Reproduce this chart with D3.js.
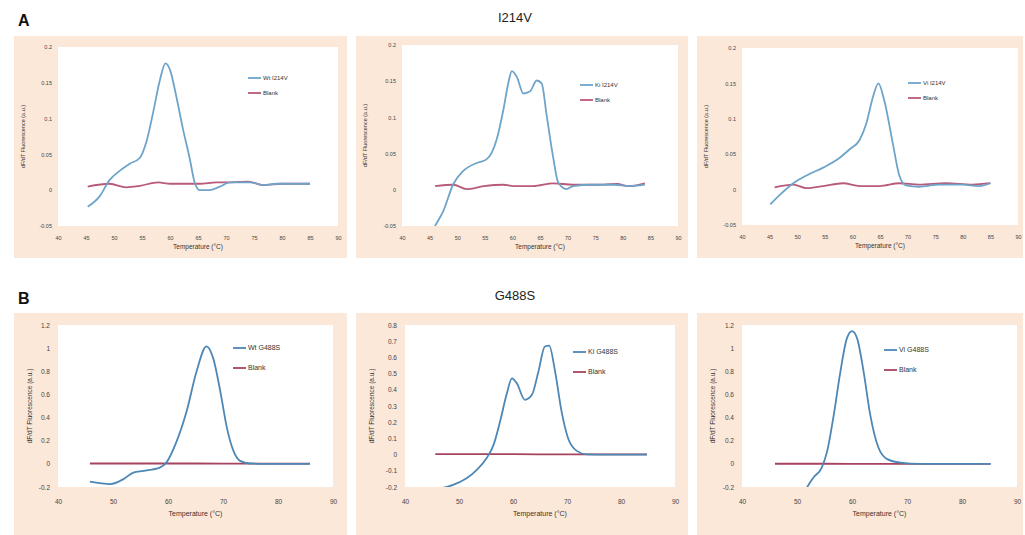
<!DOCTYPE html>
<html><head><meta charset="utf-8">
<script src="https://cdn.jsdelivr.net/npm/d3@7"></script>
<style>body{margin:0;background:#fff}svg{display:block;font-family:"Liberation Sans",Arial,sans-serif}</style>
</head><body><svg id="c" width="1025" height="535"></svg>
<script>
// ---------- tick labels ----------
const xTicksA = [40,45,50,55,60,65,70,75,80,85,90];
const xTicksB = [40,50,60,70,80,90];
const yTicksA = [-0.05,0,0.05,0.1,0.15,0.2];
const yTicksB = [-0.2,0,0.2,0.4,0.6,0.8,1,1.2];
const yTicksB2 = [-0.2,-0.1,0,0.1,0.2,0.3,0.4,0.5,0.6,0.7,0.8];

// ---------- series ----------
const a1Temp = [45.3,47.4,49.2,51,52.8,54.6,55.8,57,58.2,59.2,60,61.1,62.3,63.5,64.4,65.3,67,68.9,70.7,72.5,74.3,76.7,79.1,82,85];
const a1Sample = [-0.023,-0.009,0.014,0.027,0.037,0.045,0.068,0.109,0.154,0.177,0.168,0.132,0.086,0.045,0.011,0.0,0.0,0.005,0.011,0.011,0.011,0.007,0.009,0.009,0.009];
const a1BlankTemp = [45.3,49.2,52.2,54.6,57.9,60,63,65.3,68.3,71,74,76.7,80,85];
const a1Blank = [0.005,0.009,0.004,0.006,0.011,0.009,0.009,0.009,0.011,0.011,0.012,0.007,0.009,0.009];

const a2Temp = [45,46,47.5,49.3,51.1,53.5,55.3,57.2,58.4,59.3,59.9,60.8,62,63.2,64.4,65.3,66.2,67.4,68.3,69.8,71,74.3,78.5,81,84];
const a2Sample = [-0.065,-0.05,-0.029,0.008,0.026,0.037,0.042,0.071,0.112,0.149,0.164,0.156,0.133,0.136,0.151,0.147,0.103,0.044,0.010,0.001,0.005,0.007,0.007,0.005,0.007];
const a2BlankTemp = [46,49.3,51.7,54.8,58.4,60.2,63.8,67.4,71,75,79,81,84];
const a2Blank = [0.005,0.007,0.001,0.005,0.007,0.005,0.005,0.009,0.007,0.007,0.008,0.005,0.009];

const a3Temp = [45.1,46.9,49.3,51.7,54.7,57.7,59.5,61.3,62.5,63.7,64.7,65.8,67.3,68.5,69.7,72.1,75.7,79.9,82.9,85];
const a3Sample = [-0.021,-0.007,0.009,0.020,0.031,0.045,0.057,0.070,0.093,0.130,0.150,0.125,0.066,0.020,0.006,0.004,0.007,0.007,0.005,0.009];
const a3BlankTemp = [45.9,49.3,51.7,54.7,58.3,61.3,64.9,68.5,72.1,76.9,81.7,85];
const a3Blank = [0.003,0.007,0.002,0.005,0.009,0.005,0.005,0.009,0.007,0.009,0.007,0.009];

const b1Temp = [45.8,49.5,51.9,53.7,55.5,58.5,59.7,61.6,63.4,65.2,67.0,68.2,69.5,70.7,71.9,73.1,74.9,77.9,85.8];
const b1Sample = [-0.154,-0.175,-0.132,-0.075,-0.06,-0.032,0.011,0.198,0.457,0.80,1.016,0.916,0.629,0.313,0.112,0.026,0.003,0.0,0.0];
const b1BlankTemp = [45.8,55,65,75,85.8];
const b1Blank = [0.003,0.003,0.003,0.002,0.002];

const b2Temp = [45.2,48.9,51.4,53.3,55.1,56.4,57.6,58.8,59.8,60.7,62.2,63.5,64.7,65.9,66.7,67.8,69,70.2,71.8,73.6,77.3,84.8];
const b2Sample = [-0.218,-0.187,-0.146,-0.094,-0.023,0.060,0.204,0.369,0.471,0.440,0.338,0.369,0.512,0.667,0.673,0.512,0.265,0.101,0.023,0.002,0.0,0.0];
const b2BlankTemp = [45.6,55,65,75,84.8];
const b2Blank = [0.003,0.003,0.002,0.002,0.002];

const b3Temp = [50.5,51.5,53,54.5,55.5,56.7,57.9,59.1,60,60.9,62.1,63.3,64.8,66.4,68.8,72.5,78,85.2];
const b3Sample = [-0.35,-0.233,-0.118,-0.032,0.112,0.428,0.80,1.089,1.147,1.089,0.80,0.428,0.141,0.041,0.011,0.0,0.0,0.0];
const b3BlankTemp = [46,55,65,75,85.2];
const b3Blank = [0.001,0.001,0.0,0.0,0.0];

const sampleNames = ["Wt I214V","Ki I214V","Vi I214V","Wt G488S","Ki G488S","Vi G488S"];
const blankName = "Blank";
const rowTitles = ["I214V","G488S"];
const rowLetters = ["A","B"];
const xLabel = "Temperature (\u00B0C)";
const yLabel = "dF/dT Fluorescence (a.u.)";

// ---------- layout ----------
const svg = d3.select("#c");
const panels = [
  {bg:[14,36,333,222], px:[58,338], py:[47,226], xt:xTicksA, yt:yTicksA, t:a1Temp, s:a1Sample, bt:a1BlankTemp, b:a1Blank, name:sampleNames[0], row:0, leg:[248,78]},
  {bg:[356,36,332,222], px:[402,678], py:[45,226], xt:xTicksA, yt:yTicksA, t:a2Temp, s:a2Sample, bt:a2BlankTemp, b:a2Blank, name:sampleNames[1], row:0, leg:[580,85]},
  {bg:[697,36,326,222], px:[742,1018], py:[48,225], xt:xTicksA, yt:yTicksA, t:a3Temp, s:a3Sample, bt:a3BlankTemp, b:a3Blank, name:sampleNames[2], row:0, leg:[908,83]},
  {bg:[14,313,333,222], px:[58,333], py:[325,487], xt:xTicksB, yt:yTicksB, t:b1Temp, s:b1Sample, bt:b1BlankTemp, b:b1Blank, name:sampleNames[3], row:1, leg:[233,348]},
  {bg:[356,313,332,222], px:[405,675], py:[325,487], xt:xTicksB, yt:yTicksB2, t:b2Temp, s:b2Sample, bt:b2BlankTemp, b:b2Blank, name:sampleNames[4], row:1, leg:[573,352]},
  {bg:[697,313,326,222], px:[742,1017], py:[325,487], xt:xTicksB, yt:yTicksB, t:b3Temp, s:b3Sample, bt:b3BlankTemp, b:b3Blank, name:sampleNames[5], row:1, leg:[884,350]}
];
const colors = [
  {s:"#6ea4c9", b:"#b85a7c"},
  {s:"#4d87b6", b:"#a8435f"}
];

// row headers
[[18,26,290,22],[18,304,290,300]].forEach((p,i)=>{
  svg.append("text").attr("x",p[0]).attr("y",p[1]).attr("font-size",16).attr("font-weight","bold").attr("fill","#111").text(rowLetters[i]);
  svg.append("text").attr("x",515).attr("y",p[3]).attr("text-anchor","middle").attr("font-size",13).attr("fill","#222").text(rowTitles[i]);
});

panels.forEach((p,i)=>{
  const g = svg.append("g");
  g.append("rect").attr("x",p.bg[0]).attr("y",p.bg[1]).attr("width",p.bg[2]).attr("height",p.bg[3]).attr("fill","#fce8d9");
  const x = d3.scaleLinear().domain([p.xt[0], p.xt[p.xt.length-1]]).range(p.px);
  const y = d3.scaleLinear().domain([p.yt[0], p.yt[p.yt.length-1]]).range([p.py[1], p.py[0]]);
  g.append("rect").attr("x",p.px[0]).attr("y",p.py[0]).attr("width",p.px[1]-p.px[0]).attr("height",p.py[1]-p.py[0]).attr("fill","#fff");
  const cid = "clip"+i;
  g.append("clipPath").attr("id",cid).append("rect").attr("x",p.px[0]).attr("y",p.py[0]).attr("width",p.px[1]-p.px[0]).attr("height",p.py[1]-p.py[0]);

  const xa = g.append("g").attr("transform",`translate(0,${p.py[1]})`)
    .call(d3.axisBottom(x).tickValues(p.xt).tickSize(0).tickPadding(p.row?12:10).tickFormat(d=>String(d)));
  const ya = g.append("g").attr("transform",`translate(${p.px[0]},0)`)
    .call(d3.axisLeft(y).tickValues(p.yt).tickSize(0).tickPadding(p.row?8:6).tickFormat(d=>String(d)));
  [xa,ya].forEach(a=>{a.select(".domain").remove(); a.selectAll("text").attr("font-size",p.row?6.5:5.5).attr("fill","#444").attr("font-family","Liberation Sans, Arial, sans-serif");});

  const cx = (p.px[0]+p.px[1])/2, cy = (p.py[0]+p.py[1])/2;
  g.append("text").attr("x",cx).attr("y",p.py[1]+(p.row?29:23)).attr("text-anchor","middle").attr("font-size",p.row?7:6.5).attr("fill","#333").text(xLabel);
  g.append("text").attr("transform",`translate(${p.bg[0]+(p.row?18:11)},${cy}) rotate(-90)`).attr("text-anchor","middle").attr("font-size",p.row?6.5:5.5).attr("fill","#333").text(yLabel);

  const line = d3.line().x(d=>x(d[0])).y(d=>y(d[1])).curve(d3.curveMonotoneX);
  const lg = g.append("g").attr("clip-path",`url(#${cid})`);
  const c = colors[p.row];
  lg.append("path").attr("d",line(d3.zip(p.bt,p.b))).attr("fill","none").attr("stroke",c.b).attr("stroke-width",1.8).attr("stroke-linejoin","round");
  lg.append("path").attr("d",line(d3.zip(p.t,p.s))).attr("fill","none").attr("stroke",c.s).attr("stroke-width",1.8).attr("stroke-linejoin","round");

  // legend
  const dy = p.row?20:15;
  [[p.name,c.s],[blankName,c.b]].forEach((e,k)=>{
    const ly = p.leg[1]+k*dy;
    g.append("line").attr("x1",p.leg[0]).attr("x2",p.leg[0]+13).attr("y1",ly).attr("y2",ly).attr("stroke",e[1]).attr("stroke-width",1.8);
    g.append("text").attr("x",p.leg[0]+15).attr("y",ly+2.3).attr("font-size",p.row?7:6).attr("fill","#333").text(e[0]);
  });
});
</script></body></html>
